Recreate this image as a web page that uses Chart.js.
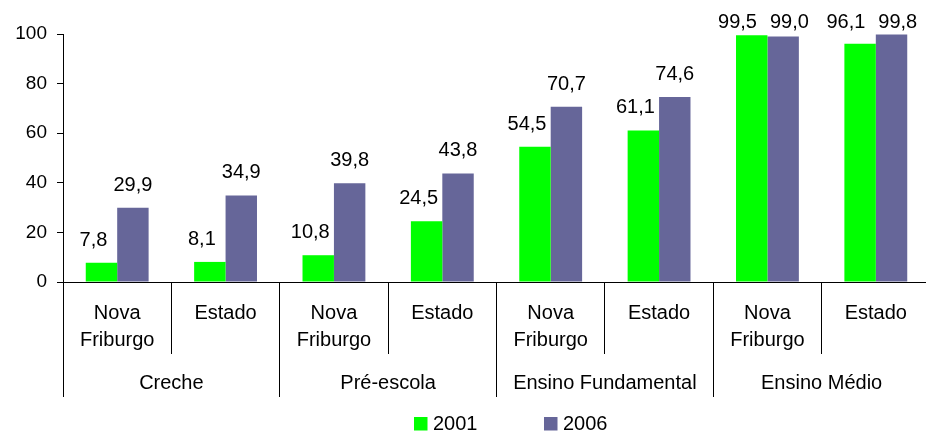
<!DOCTYPE html>
<html>
<head>
<meta charset="utf-8">
<script src="https://cdn.jsdelivr.net/npm/chart.js@4"></script>
<style>
  html, body { margin: 0; background: #fff; overflow: hidden; }
</style>
</head>
<body>
<canvas id="enrollmentChart" width="930" height="432"></canvas>
<script>
// Chart data
const groups = ['Creche', 'Pré-escola', 'Ensino Fundamental', 'Ensino Médio'];
const categories = [
    ['Nova', 'Friburgo'], 'Estado',
    ['Nova', 'Friburgo'], 'Estado',
    ['Nova', 'Friburgo'], 'Estado',
    ['Nova', 'Friburgo'], 'Estado'
];
const seriesNames = ['2001', '2006'];
const values2001 = [7.8, 8.1, 10.8, 24.5, 54.5, 61.1, 99.5, 96.1];
const values2006 = [29.9, 34.9, 39.8, 43.8, 70.7, 74.6, 99.0, 99.8];
const yTicks = [0, 20, 40, 60, 80, 100];

const FONT = "'Liberation Sans', Arial, sans-serif";
const colors = ['#00FF00', '#666699'];

Chart.defaults.font.family = FONT;
Chart.defaults.color = '#000';

function fmt(v) {
    return v.toFixed(1).replace('.', ',');
}

// value labels above bars, pushed apart when they collide (like Excel does)
const valueLabels = {
    id: 'valueLabels',
    afterDatasetsDraw(chart) {
        const ctx = chart.ctx;
        const m0 = chart.getDatasetMeta(0);
        const m1 = chart.getDatasetMeta(1);
        ctx.save();
        ctx.font = '20px ' + FONT;
        ctx.fillStyle = '#000';
        ctx.textAlign = 'center';
        ctx.textBaseline = 'alphabetic';
        m0.data.forEach((bar0, i) => {
            const bar1 = m1.data[i];
            const t0 = fmt(chart.data.datasets[0].data[i]);
            const t1 = fmt(chart.data.datasets[1].data[i]);
            const w0 = ctx.measureText(t0).width;
            const w1 = ctx.measureText(t1).width;
            let x0 = bar0.x - 8, x1 = bar1.x;
            const y0 = Math.max(bar0.y - 17, 28);
            const y1 = Math.max(bar1.y - 17, 28);
            if (Math.abs(y0 - y1) < 16) {
                const extra = (w0 + w1) / 2 + 13 - (x1 - x0);
                if (extra > 0) { x0 -= extra / 2; x1 += extra / 2; }
            }
            ctx.fillText(t0, x0, y0);
            ctx.fillText(t1, x1, y1);
        });
        ctx.restore();
    }
};

// legend drawn by hand so the items can sit far apart
const wideLegend = {
    id: 'wideLegend',
    afterDraw(chart) {
        const ctx = chart.ctx;
        ctx.save();
        ctx.font = '20px ' + FONT;
        ctx.textBaseline = 'alphabetic';
        ctx.textAlign = 'left';
        let x = 414;
        chart.data.datasets.forEach(ds => {
            ctx.fillStyle = ds.backgroundColor;
            ctx.fillRect(x, 417, 13.5, 13.5);
            ctx.fillStyle = '#000';
            ctx.fillText(ds.label, x + 19, 430);
            x += 130;
        });
        ctx.restore();
    }
};

const ctx = document.getElementById('enrollmentChart').getContext('2d');

const enrollmentChart = new Chart(ctx, {
    type: 'bar',
    data: {
        labels: categories,
        datasets: [
            { label: seriesNames[0], data: values2001, backgroundColor: colors[0] },
            { label: seriesNames[1], data: values2006, backgroundColor: colors[1] }
        ]
    },
    options: {
        responsive: false,
        animation: false,
        events: [],
        categoryPercentage: 0.58,
        barPercentage: 1,
        layout: { padding: { top: 34, left: 0, right: 0, bottom: 35 } },
        plugins: {
            legend: { display: false },
            tooltip: { enabled: false }
        },
        scales: {
            y: {
                min: 0,
                max: 100,
                afterBuildTicks: s => { s.ticks = yTicks.map(v => ({ value: v })); },
                afterFit: s => { s.width = 63; },
                grid: { drawOnChartArea: false, tickLength: 6, color: '#000' },
                border: { display: true, color: '#000' },
                ticks: { font: { size: 19 }, color: '#000', padding: 10 }
            },
            x: {
                offset: true,
                grid: { offset: true, drawOnChartArea: false, tickLength: 72, color: '#000' },
                border: { display: true, color: '#000' },
                ticks: {
                    font: { size: 20, lineHeight: 1.35 }, color: '#000',
                    padding: -54.5, maxRotation: 0, autoSkip: false
                },
                afterFit: s => { s.height = 72; }
            },
            x2: {
                type: 'category',
                position: 'bottom',
                labels: groups,
                offset: true,
                grid: { offset: true, drawOnChartArea: false, tickLength: 43, color: '#000' },
                border: { display: false },
                ticks: {
                    font: { size: 20, lineHeight: 1.35 }, color: '#000',
                    padding: -27.5, maxRotation: 0, autoSkip: false
                },
                afterFit: s => { s.height = 43; }
            }
        }
    },
    plugins: [valueLabels, wideLegend]
});
</script>
</body>
</html>
